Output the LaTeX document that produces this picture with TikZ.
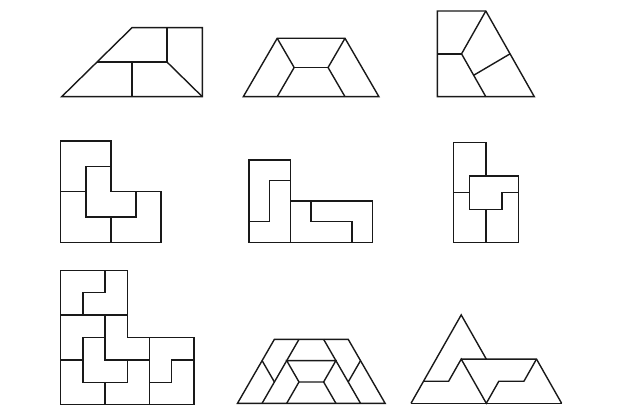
\documentclass[tikz,border=0pt]{standalone}
\begin{document}
\begin{tikzpicture}[x=1pt,y=1pt,
  edge/.style={draw=black!90,line width=1.4pt,line join=miter}]
\useasboundingbox (0,0) rectangle (617,417);
% Figure 1: right trapezoid
\begin{scope}[shift={(61.7,320.3)},x=35.15pt,y=34.5pt]
  \draw[edge] (0,0) -- (2,2) -- (4,2) -- (4,0) -- cycle;
  \draw[edge] (1,1) -- (3,1) -- (3,2);
  \draw[edge] (2,0) -- (2,1);
  \draw[edge] (3,1) -- (4,0);
\end{scope}
% Figure 2: isosceles trapezoid
\begin{scope}[shift={(243.3,320.3)},x=33.9pt,y=58.4pt]
  \draw[edge] (0,0) -- (1,1) -- (3,1) -- (4,0) -- cycle;
  \draw[edge] (1,1) -- (1.5,0.5) -- (1,0);
  \draw[edge] (3,1) -- (2.5,0.5) -- (3,0);
  \draw[edge] (1.5,0.5) -- (2.5,0.5);
\end{scope}
% Figure 3: right-angled trapezoid with slant
\begin{scope}[shift={(437.3,320.3)},x=48.5pt,y=85.7pt]
  \draw[edge] (0,0) -- (2,0) -- (1,1) -- (0,1) -- cycle;
  \draw[edge] (0,0.5) -- (0.5,0.5);
  \draw[edge] (1,1) -- (0.5,0.5) -- (1,0);
  \draw[edge] (0.75,0.25) -- (1.5,0.5);
\end{scope}
% Figure 4: L of four L-trominoes
\begin{scope}[shift={(60.7,174.7)},x=25.1pt,y=25.3pt]
  \draw[edge] (0,0) -- (4,0) -- (4,2) -- (2,2) -- (2,4) -- (0,4) -- cycle;
  \draw[edge] (0,2) -- (1,2);
  \draw[edge] (2,3) -- (1,3) -- (1,1) -- (3,1) -- (3,2);
  \draw[edge] (2,1) -- (2,0);
\end{scope}
% Figure 5: L of four L-tetrominoes
\begin{scope}[shift={(249,174.7)},x=20.6pt,y=20.6pt]
  \draw[edge] (0,0) -- (6,0) -- (6,2) -- (2,2) -- (2,4) -- (0,4) -- cycle;
  \draw[edge] (2,0) -- (2,2);
  \draw[edge] (0,1) -- (1,1) -- (1,3) -- (2,3);
  \draw[edge] (3,2) -- (3,1) -- (5,1) -- (5,0);
\end{scope}
% Figure 6
\begin{scope}[shift={(453.3,174.3)},x=16.25pt,y=16.7pt]
  \draw[edge] (0,0) -- (4,0) -- (4,4) -- (2,4) -- (2,6) -- (0,6) -- cycle;
  \draw[edge] (2,4) -- (1,4) -- (1,2) -- (3,2) -- (3,3) -- (4,3);
  \draw[edge] (0,3) -- (1,3);
  \draw[edge] (2,2) -- (2,0);
\end{scope}
% Figure 7: big L of nine L-trominoes
\begin{scope}[shift={(60.7,12.3)},x=22.2pt,y=22.4pt]
  \draw[edge] (0,0) -- (6,0) -- (6,3) -- (3,3) -- (3,6) -- (0,6) -- cycle;
  \draw[edge] (2,6) -- (2,5) -- (1,5) -- (1,4);
  \draw[edge] (0,4) -- (3,4);
  \draw[edge] (2,4) -- (2,2) -- (4,2);
  \draw[edge] (0,2) -- (1,2);
  \draw[edge] (2,3) -- (1,3) -- (1,1) -- (3,1) -- (3,2);
  \draw[edge] (4,3) -- (4,0);
  \draw[edge] (2,1) -- (2,0);
  \draw[edge] (6,2) -- (5,2) -- (5,1) -- (4,1);
\end{scope}
% Figure 8: trapezoid of triangular grid
\begin{scope}[shift={(237.5,13.7)},x=24.6pt,y=21.33pt]
  \draw[edge] (0,0) -- (1.5,3) -- (4.5,3) -- (6,0) -- cycle;
  \draw[edge] (2.5,3) -- (1,0);
  \draw[edge] (3.5,3) -- (5,0);
  \draw[edge] (1,2) -- (1.5,1);
  \draw[edge] (5,2) -- (4.5,1);
  \draw[edge] (2,2) -- (4,2) -- (3.5,1) -- (2.5,1) -- cycle;
  \draw[edge] (2.5,1) -- (2,0);
  \draw[edge] (3.5,1) -- (4,0);
\end{scope}
% Figure 9: triangle and parallelogram
\begin{scope}[shift={(411,13.7)},x=25.1pt,y=22.1pt]
  \draw[edge] (0,0) -- (6,0);
  \draw[edge] (0,0) -- (2,4) -- (3,2);
  \draw[edge] (2,2) -- (5,2) -- (6,0);
  \draw[edge] (0.5,1) -- (1.5,1) -- (2,2) -- (3,0) -- (3.5,1) -- (4.5,1) -- (5,2);
\end{scope}
\end{tikzpicture}
\end{document}
